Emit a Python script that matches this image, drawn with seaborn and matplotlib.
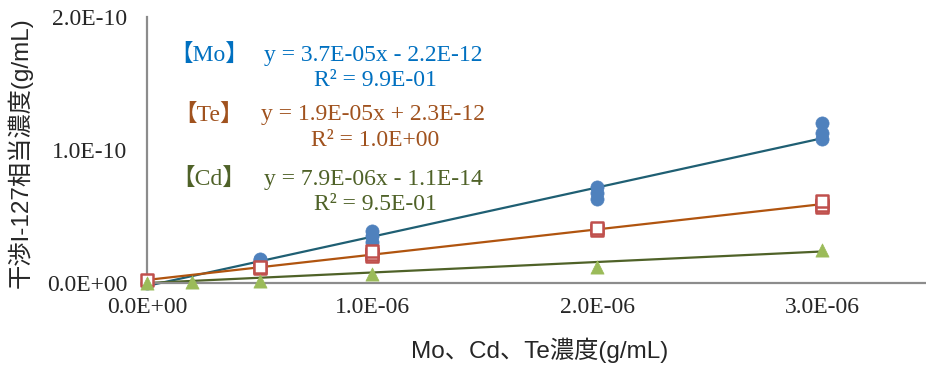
import numpy as np
import pandas as pd
import matplotlib
matplotlib.use("Agg")
import matplotlib.pyplot as plt
from matplotlib.ticker import MultipleLocator, FuncFormatter
import seaborn as sns

# Measured interference (I-127 equivalent concentration) vs. added element concentration
mo_x = [0.0, 0.5e-6, 0.5e-6, 0.5e-6, 1e-6, 1e-6, 1e-6, 2e-6, 2e-6, 2e-6, 3e-6, 3e-6, 3e-6]
mo_y = [0.0, 1.5e-11, 1.7e-11, 1.8e-11, 3.1e-11, 3.5e-11, 3.9e-11,
        6.3e-11, 6.8e-11, 7.2e-11, 1.08e-10, 1.13e-10, 1.20e-10]

te_x = [0.0, 0.5e-6, 0.5e-6, 1e-6, 1e-6, 1e-6, 2e-6, 2e-6, 3e-6, 3e-6, 3e-6]
te_y = [0.2e-11, 1.1e-11, 1.2e-11, 2.0e-11, 2.2e-11, 2.4e-11,
        4.0e-11, 4.1e-11, 5.7e-11, 5.9e-11, 6.2e-11]

cd_x = [0.0, 0.2e-6, 0.5e-6, 1e-6, 2e-6, 3e-6]
cd_y = [0.0, 0.1e-11, 0.15e-11, 0.7e-11, 1.2e-11, 2.5e-11]

# Linear fit parameters (slope, intercept, R²)
mo_fit = (3.7e-05, -2.2e-12, 0.99)
te_fit = (1.9e-05, 2.3e-12, 1.0)
cd_fit = (7.9e-06, -1.1e-14, 0.95)
fit_range = [0.0, 3e-6]

x_title = "Mo、Cd、Te濃度(g/mL)"
y_title = "干渉I-127相当濃度(g/mL)"

sns.set_style("white")
serif = ["Liberation Serif", "Noto Sans CJK JP"]
sans = ["Liberation Sans", "Noto Sans CJK JP"]
plt.rcParams["font.family"] = serif

fig = plt.figure(figsize=(9.26, 3.65), dpi=100)
W, H = 926, 365
x0_px, y0_px, ytop_px = 147, 283, 17
px_per_unit = 225  # pixels per 1e-6 on x
ax = fig.add_axes([x0_px / W, (H - y0_px) / H, (W - x0_px) / W, (y0_px - ytop_px) / H])
ax.set_xlim(0, (W - x0_px) / px_per_unit * 1e-6)
ax.set_ylim(0, 2e-10)

series = [
    ("Mo", mo_x, mo_y, mo_fit, "#4F81BD", "#1F5F73", "o", "#0070C0"),
    ("Te", te_x, te_y, te_fit, "#C0504D", "#B0540F", "s", "#A0521E"),
    ("Cd", cd_x, cd_y, cd_fit, "#9BBB59", "#4F6228", "^", "#4F6228"),
]

# trend lines from the fit parameters
for name, xs, ys, (m, b, r2), mcol, lcol, mk, tcol in series:
    lx = np.array(fit_range)
    line_df = pd.DataFrame({"x": lx, "y": m * lx + b})
    sns.lineplot(data=line_df, x="x", y="y", ax=ax, color=lcol, lw=1.6,
                 zorder=2, clip_on=False)

# markers
for name, xs, ys, fit, mcol, lcol, mk, tcol in series:
    df = pd.DataFrame({"x": xs, "y": ys})
    if mk == "s":
        sns.scatterplot(data=df, x="x", y="y", ax=ax, marker="s", s=75,
                        facecolor="white", edgecolor=mcol, linewidth=1.8,
                        zorder=3, clip_on=False)
    else:
        sns.scatterplot(data=df, x="x", y="y", ax=ax, marker=mk, s=90,
                        color=mcol, edgecolor=mcol, linewidth=0.5,
                        zorder=3, clip_on=False)

# axes styling
for side in ["top", "right"]:
    ax.spines[side].set_visible(False)
for side in ["left", "bottom"]:
    ax.spines[side].set_color("#8C8C8C")
    ax.spines[side].set_linewidth(1.6)

ax.xaxis.set_major_locator(MultipleLocator(1e-6))
ax.xaxis.set_minor_locator(MultipleLocator(0.5e-6))
ax.yaxis.set_major_locator(MultipleLocator(1e-10))
ax.yaxis.set_minor_locator(MultipleLocator(0.5e-10))
ax.tick_params(which="both", direction="in", length=5, width=1.3, color="#8C8C8C")
ax.tick_params(axis="x", which="major", labelsize=17, pad=10)
ax.tick_params(axis="y", which="major", labelsize=17, pad=14)


def sci_fmt(v, pos):
    return f"{v:.1E}"


ax.xaxis.set_major_formatter(FuncFormatter(sci_fmt))
ax.yaxis.set_major_formatter(FuncFormatter(sci_fmt))
for lab in ax.get_xticklabels() + ax.get_yticklabels():
    lab.set_family(serif)
ax.set_xlabel("")
ax.set_ylabel("")

fig.text(540 / W, 1 - 350 / H, x_title, ha="center", va="center",
         fontsize=17.5, family=sans)
fig.text(20 / W, 1 - 153 / H, y_title, ha="center", va="center",
         rotation=90, fontsize=17.5, family=sans)

# equation annotations
label_rows = [55, 115, 179]
for (name, xs, ys, (m, b, r2), mcol, lcol, mk, tcol), yr in zip(series, label_rows):
    sign = "-" if b < 0 else "+"
    eq = f"y = {m:.1E}x {sign} {abs(b):.1E}"
    rr = f"R² = {r2:.1E}"
    fig.text(209 / W, 1 - yr / H, f"【{name}】", ha="center", va="center",
             fontsize=17, color=tcol, family=serif)
    fig.text(373 / W, 1 - yr / H, eq, ha="center", va="center",
             fontsize=17, color=tcol, family=serif)
    fig.text(375 / W, 1 - (yr + 25) / H, rr, ha="center", va="center",
             fontsize=17, color=tcol, family=serif)

fig.savefig("out.png", dpi=100)
